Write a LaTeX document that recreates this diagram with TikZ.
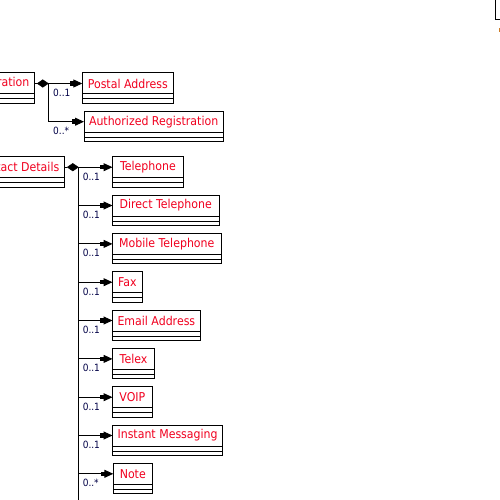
\documentclass[tikz,border=0pt]{standalone}
\usepackage{fontspec}
\setmainfont{DejaVu Sans}[FakeStretch=0.9]
\usetikzlibrary{arrows.meta,calc,shapes.geometric}
\definecolor{classred}{RGB}{240,0,30}
\definecolor{multnavy}{RGB}{0,0,70}
\definecolor{cutmark}{RGB}{205,125,40}
\tikzset{
  classname/.style={draw, line width=1pt, outer sep=0pt, inner xsep=5pt, inner ysep=0pt,
    minimum height=21pt, text=classred, font=\fontsize{12.2pt}{12pt}\selectfont},
  compart/.style={draw, line width=1pt},
  agg/.style={diamond, fill=black, draw=black, line width=0.5pt, inner sep=0pt,
    outer sep=0pt, minimum width=11pt, minimum height=7.5pt},
  assoc/.style={draw, line width=1pt,
    -{Rectangle[length=6pt,width=4.5pt,sep=-2.5pt]Triangle[length=9pt,width=8pt]}},
  link/.style={draw, line width=1pt},
  mult/.style={text=multnavy, font=\fontsize{10pt}{10pt}\selectfont,
    inner sep=0pt, anchor=base west},
}
% class box: name compartment plus two empty compartments below
\newcommand{\umlcompartments}[1]{%
  \draw[compart] (#1.south west) rectangle ($(#1.south east)+(0,9.5)$);
  \draw[compart] ($(#1.south west)+(0,5)$) -- ($(#1.south east)+(0,5)$);
}
\newcommand{\umlclass}[5]{% name, left x, top y, width, label
  \node[classname, minimum width=#4pt, anchor=north west] (#1) at (#2,#3) {#5};
  \umlcompartments{#1}
}
\begin{document}
\begin{tikzpicture}[x=1pt,y=-1pt]
\useasboundingbox (0,0) rectangle (500,500);
\clip (0,0) rectangle (500,500);

% registration branch
\node[classname, anchor=north east] (reg) at (34.3,73) {Registration};
\umlcompartments{reg}
\umlclass{postal}{82.3}{73}{91}{Postal Address}
\umlclass{authreg}{84}{111.2}{137}{Authorized Registration}

\node[agg] (dreg) at (42.8,83.5) {};
\draw[link] (reg.east) -- (dreg.west);
\draw[assoc] (dreg.east) -- (postal.west);
\draw[assoc] (dreg.east) |- (authreg.west);
\node[mult] (mpostal) at (53,96) {0..1};
\node[mult] (mauth) at (53,134) {0..*};

% contact details branch
\node[classname, anchor=north east] (contact) at (64.3,156.7) {Contact Details};
\umlcompartments{contact}
\umlclass{tel}{112.5}{156.7}{70.8}{Telephone}
\umlclass{dirtel}{112.5}{195.0}{106.5}{Direct Telephone}
\umlclass{mobtel}{112.5}{233.4}{108.5}{Mobile Telephone}
\umlclass{fax}{112.5}{271.7}{29.8}{Fax}
\umlclass{email}{112.5}{310.0}{85.8}{Email Address}
\umlclass{telex}{112.5}{348.4}{42.2}{Telex}
\umlclass{voip}{112.5}{386.7}{39.8}{VOIP}
\umlclass{im}{112.5}{425.0}{110.2}{Instant Messaging}
\umlclass{note}{113.3}{463.3}{39}{Note}

\node[agg] (dcon) at (72.8,167.2) {};
\coordinate (cbus) at (78.3,505);
\draw[link] (contact.east) -- (dcon.west);
\draw[link] (dcon.east) -- (cbus);
\foreach \c/\m in {tel/0..1, dirtel/0..1, mobtel/0..1, fax/0..1, email/0..1,
                   telex/0..1, voip/0..1, im/0..1, note/0..*}{
  \draw[assoc] (dcon.east) |- (\c.west);
  \node[mult] (m\c) at ($(dcon.east |- \c.west)+(4.3,13)$) {\m};
}

% class box cut off at the top right
\draw[compart] (495.7,-5) rectangle (520,19.3);
\draw[cutmark, line width=1pt] (499,28) -- (499,32);
\end{tikzpicture}
\end{document}
